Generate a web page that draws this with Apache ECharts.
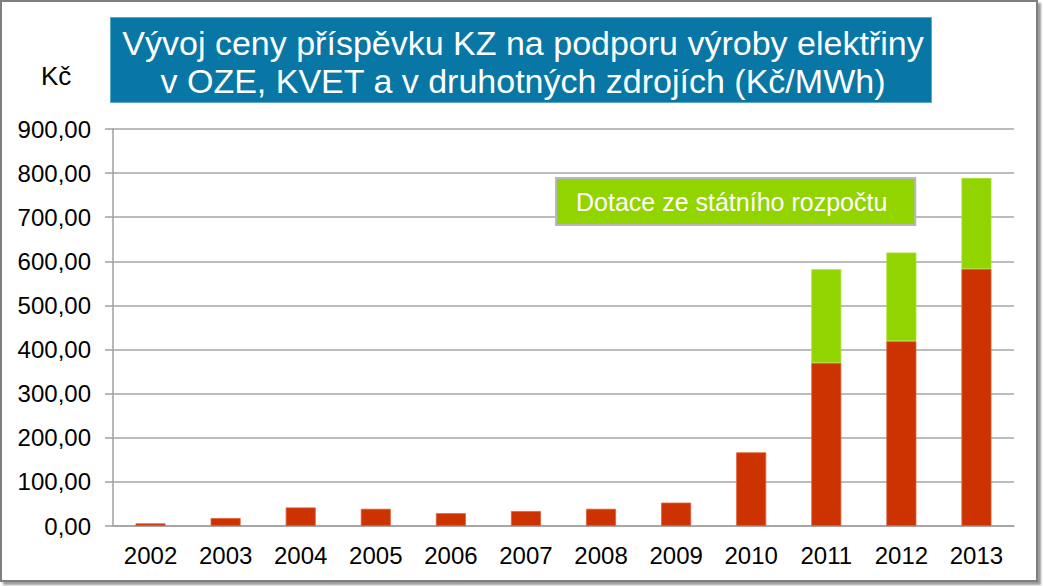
<!DOCTYPE html>
<html>
<head>
<meta charset="utf-8">
<script src="https://cdn.jsdelivr.net/npm/echarts@6/dist/echarts.min.js"></script>
<style>
html,body{margin:0;padding:0;background:#fff;}
#wrap{position:relative;width:1043px;height:586px;overflow:hidden;}
#chart{position:absolute;left:0;top:0;width:1043px;height:586px;}
#frame{position:absolute;left:0;top:0;width:1034px;height:578px;border:2px solid #7f7f7f;box-shadow:3px 3px 2px #9c9c9c;pointer-events:none;}
</style>
</head>
<body>
<div id="wrap"><div id="chart"></div><div id="frame"></div></div>
<script>
const years = ['2002','2003','2004','2005','2006','2007','2008','2009','2010','2011','2012','2013'];
const contribution = [6, 18, 42, 39, 29, 34, 39, 53, 167, 370, 419, 583];
const subsidy = [null, null, null, null, null, null, null, null, null, 212, 201, 206];
const contributionName = 'Příspěvek KZ';
const subsidyName = 'Dotace ze státního rozpočtu';
const titleText = 'Vývoj ceny příspěvku KZ na podporu výroby elektřiny\nv OZE, KVET a v druhotných zdrojích (Kč/MWh)';
const unitLabel = 'Kč';

const chart = echarts.init(document.getElementById('chart'), null, {renderer: 'svg'});
const font = '"Liberation Sans", Arial, sans-serif';
chart.setOption({
  animation: false,
  textStyle: {fontFamily: font},
  graphic: [{
    type: 'rect', left: 110, top: 17, z: 0,
    shape: {width: 821, height: 85},
    style: {fill: '#0877a6', stroke: '#5aa6c6', lineWidth: 1}
  }],
  title: [{
    text: titleText, left: 518, top: 19, textAlign: 'center',
    textStyle: {color: '#ffffff', fontSize: 34, fontWeight: 'normal', lineHeight: 38, fontFamily: font}
  }, {
    text: unitLabel, left: 36, top: 58,
    textStyle: {color: '#000', fontSize: 26, fontWeight: 'normal', fontFamily: font}
  }],
  legend: {
    data: [subsidyName], left: 556, top: 178, selectedMode: false,
    backgroundColor: '#92d400', borderColor: '#b8b8bc', borderWidth: 2,
    padding: [11, 28, 11, 14], itemWidth: 0, itemHeight: 0,
    textStyle: {color: '#ffffff', fontSize: 25, fontFamily: font}
  },
  grid: {left: 113, right: 29, top: 129, bottom: 60},
  xAxis: {
    type: 'category', data: years,
    axisLine: {lineStyle: {color: '#a0a0a0', width: 1.5}},
    axisTick: {length: 8, lineStyle: {color: '#a0a0a0', width: 1.5}},
    axisLabel: {color: '#000', fontSize: 24, margin: 17, fontFamily: font}
  },
  yAxis: {
    type: 'value', min: 0, max: 900, interval: 100,
    axisLine: {show: true, lineStyle: {color: '#a0a0a0', width: 1.5}},
    axisTick: {show: true, length: 8, lineStyle: {color: '#a0a0a0', width: 1.5}},
    splitLine: {lineStyle: {color: '#a6a6a6', width: 1.5}},
    axisLabel: {color: '#000', fontSize: 24, margin: 22, fontFamily: font,
      formatter: v => v.toFixed(2).replace('.', ',')}
  },
  series: [{
    name: contributionName, type: 'bar', stack: 'total', barWidth: 30,
    data: contribution,
    itemStyle: {color: '#cc3300', borderColor: '#e0603a', borderWidth: 0.8}
  }, {
    name: subsidyName, type: 'bar', stack: 'total', barWidth: 30,
    data: subsidy,
    itemStyle: {color: '#92d400', borderColor: '#a8e030', borderWidth: 0.8}
  }]
});
</script>
</body>
</html>
